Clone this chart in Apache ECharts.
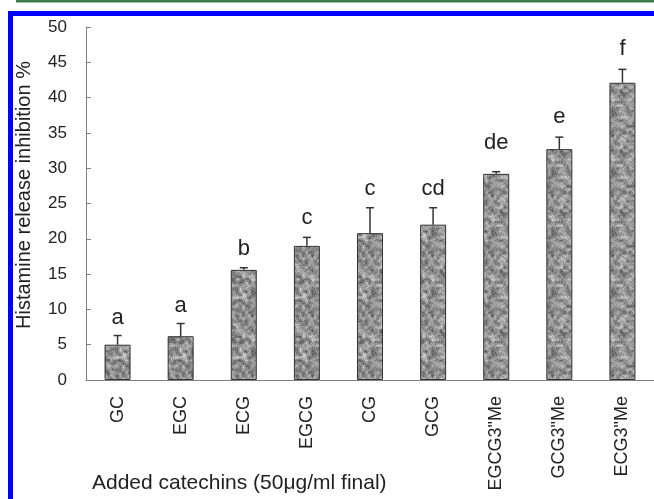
<!DOCTYPE html>
<html><head><meta charset="utf-8">
<script src="https://cdn.jsdelivr.net/npm/echarts@6/dist/echarts.min.js"></script>
<style>html,body{margin:0;padding:0;background:#fff}#c{width:654px;height:499px}</style>
</head><body><div id="c"></div>
<script>
var categories = ['GC','EGC','ECG','EGCG','CG','GCG','EGCG3"Me','GCG3"Me','ECG3"Me'];
var means = [5.0, 6.2, 15.6, 19.0, 20.8, 22.0, 29.2, 32.7, 42.1];
var errors = [1.3, 1.8, 0.3, 1.2, 3.6, 2.4, 0.3, 1.7, 1.9];
var letters = ['a','a','b','c','c','cd','de','e','f'];
var letterLevels = [7.9, 9.6, 17.7, 22.1, 26.2, 26.2, 32.7, 36.4, 46.0];
var yTicks = {min:0, max:50, interval:5};

function hash(x,y){
  var n = Math.imul(x,374761393) + Math.imul(y,668265263);
  n = Math.imul(n ^ (n>>>13), 1274126177);
  n = n ^ (n>>>16);
  return (n & 0xffff)/65535;
}
function makeTexture(){
  var S=60, c=document.createElement('canvas'); c.width=S; c.height=S;
  var ctx=c.getContext('2d'); var img=ctx.createImageData(S,S);
  var cell=3, G=S/cell;
  function vn(x,y){
    var gx=Math.floor(x/cell), gy=Math.floor(y/cell);
    var fx=(x%cell)/cell, fy=(y%cell)/cell;
    var a=hash(gx%G,gy%G), b=hash((gx+1)%G,gy%G), d=hash(gx%G,(gy+1)%G), e=hash((gx+1)%G,(gy+1)%G);
    var t1=a+(b-a)*fx, t2=d+(e-d)*fx; return t1+(t2-t1)*fy;
  }
  for(var y=0;y<S;y++)for(var x=0;x<S;x++){
    var v=0.7*vn(x,y)+0.3*hash(x+1000,y+7);
    var g=Math.round(70+v*150);
    var i=(y*S+x)*4; img.data[i]=g;img.data[i+1]=g;img.data[i+2]=g;img.data[i+3]=255;
  }
  ctx.putImageData(img,0,0); return c;
}
var tex = makeTexture();

var chart = echarts.init(document.getElementById('c'), null, {renderer:'canvas'});
var font = 'Liberation Sans, Arial, sans-serif';
chart.setOption({
  animation:false,
  grid:{left:86, top:27, width:570, bottom:119, containLabel:false},
  xAxis:{type:'category', data:categories,
    axisLine:{lineStyle:{color:'#808080',width:1}},
    axisTick:{inside:true,length:5,lineStyle:{color:'#808080'}},
    axisLabel:{rotate:90, margin:16, fontSize:18, color:'#222', fontFamily:font}},
  yAxis:{type:'value', min:yTicks.min, max:yTicks.max, interval:yTicks.interval,
    splitLine:{show:false},
    axisLine:{show:true,lineStyle:{color:'#808080',width:1}},
    axisTick:{show:true,inside:true,length:5,lineStyle:{color:'#808080'}},
    axisLabel:{margin:19, fontSize:17, color:'#222', fontFamily:font}},
  series:[
    {type:'bar', data:means, barWidth:26,
     itemStyle:{color:{image:tex, repeat:'repeat'}, borderColor:'#333', borderWidth:1}},
    {type:'custom', data:means.map(function(m,i){return [i,m,errors[i],letterLevels[i]];}),
     renderItem:function(params, api){
       var i=api.value(0), m=api.value(1), e=api.value(2), l=api.value(3);
       var p0=api.coord([i,m]), p1=api.coord([i,m+e]), pl=api.coord([i,l]);
       var idx=params.dataIndex;
       return {type:'group', children:[
         {type:'line', shape:{x1:p0[0],y1:p0[1],x2:p1[0],y2:p1[1]}, style:{stroke:'#333',lineWidth:1.5}},
         {type:'line', shape:{x1:p1[0]-4,y1:p1[1],x2:p1[0]+4,y2:p1[1]}, style:{stroke:'#333',lineWidth:1.5}},
         {type:'text', x:pl[0], y:pl[1]+5, style:{text:letters[idx], fill:'#222', font:'22px '+font, align:'center', verticalAlign:'bottom'}}
       ]};
     }}
  ],
  graphic:[
    {type:'rect', shape:{x:16,y:0,width:640,height:2.5}, style:{fill:'#3d7d4d'}},
    {type:'rect', shape:{x:8,y:11,width:650,height:5}, style:{fill:'#0000ff'}},
    {type:'rect', shape:{x:8,y:11,width:5,height:490}, style:{fill:'#0000ff'}},
    {type:'text', x:24, y:195, rotation:Math.PI/2, style:{text:'Histamine release inhibition %', fill:'#222', font:'20px '+font, align:'center', verticalAlign:'middle'}},
    {type:'text', x:92, y:483, style:{text:'Added catechins (50\u03bcg/ml final)', fill:'#222', font:'21px '+font, align:'left', verticalAlign:'middle'}}
  ]
});
</script></body></html>
